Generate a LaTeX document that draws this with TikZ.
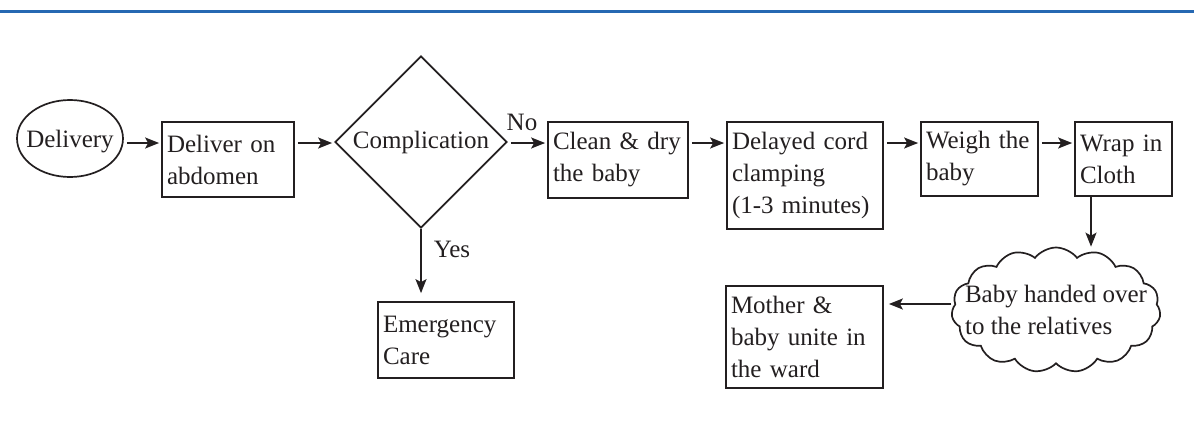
\documentclass[tikz,border=0pt]{standalone}
\usepackage{fontspec}
\setmainfont{Liberation Serif}
\usetikzlibrary{shapes.geometric,shapes.symbols,arrows.meta}
\definecolor{ink}{RGB}{35,31,32}
\definecolor{rulecol}{RGB}{38,104,178}
\begin{document}
\begin{tikzpicture}[x=1pt,y=-1pt,
  font=\fontsize{25}{32}\selectfont, line width=1.7pt, color=ink,
  box/.style={draw, rectangle, inner xsep=5pt, inner ysep=0pt, align=left},
  arr/.style={-{Stealth[length=14pt,width=11pt,inset=3pt]}, shorten <=3pt, shorten >=2pt}]
\useasboundingbox (0,0) rectangle (1194,423);
\draw[rulecol, line width=3pt] (0,11) -- (1194,11);
\coordinate (row) at (0,143);
\coordinate (lowrow) at (0,304);
\coordinate (drop) at (1091,0);
% nodes
\node[draw, ellipse, minimum width=106pt, minimum height=77pt, inner sep=0pt,
      label={[yshift=-3pt]center:Delivery}] (delivery) at (70,138.5) {};
\node[box, text width=122pt, minimum height=75pt] (abdomen) at (228,159.5) {Deliver on\\abdomen};
\node[draw, diamond, aspect=1, minimum width=172pt, minimum height=172pt, inner sep=0pt] (compl) at (421,142) {Complication};
\node[box, text width=130pt, minimum height=76pt] (clean) at (618,160) {Clean \& dry\\the baby};
\node[box, text width=146pt, minimum height=107pt] (cord) at (805,175.5) {Delayed cord\\clamping\\(1-3 minutes)};
\node[box, text width=107pt, minimum height=74pt] (weigh) at (979.5,159) {Weigh the\\baby};
\node[box, text width=87pt, minimum height=74pt] (wrap) at (1123.5,159) {Wrap in\\Cloth};
\node[box, text width=126pt, minimum height=76pt] (emerg) at (446,340) {Emergency\\Care};
\node[draw, cloud, cloud puffs=15, cloud puff arc=105, cloud ignores aspect,
      minimum width=209pt, minimum height=125pt, inner sep=0pt,
      label={[align=left]center:Baby handed over\\to the relatives}] (relatives) at (1056,310) {};
\node[box, text width=147pt, minimum height=102pt] (mother) at (804.5,337) {Mother \&\\baby unite in\\the ward};
\node (nolabel) at (522,122) {No};
\node (yeslabel) at (452,249) {Yes};
% connectors
\draw[arr] (delivery.east |- row) -- (abdomen.west |- row);
\draw[arr] (abdomen.east |- row) -- (compl.west |- row);
\draw[arr] (compl.east |- row) -- (clean.west |- row);
\draw[arr, shorten <=0pt, shorten >=8pt] (compl.south) -- (emerg.north -| compl.south);
\draw[arr] (clean.east |- row) -- (cord.west |- row);
\draw[arr] (cord.east |- row) -- (weigh.west |- row);
\draw[arr] (weigh.east |- row) -- (wrap.west |- row);
\draw[arr, shorten <=0pt, shorten >=0pt] (wrap.south -| drop) -- (relatives.north -| drop);
\draw[arr, shorten <=0pt, shorten >=5pt] (relatives.west |- lowrow) -- (mother.east |- lowrow);
\end{tikzpicture}
\end{document}
